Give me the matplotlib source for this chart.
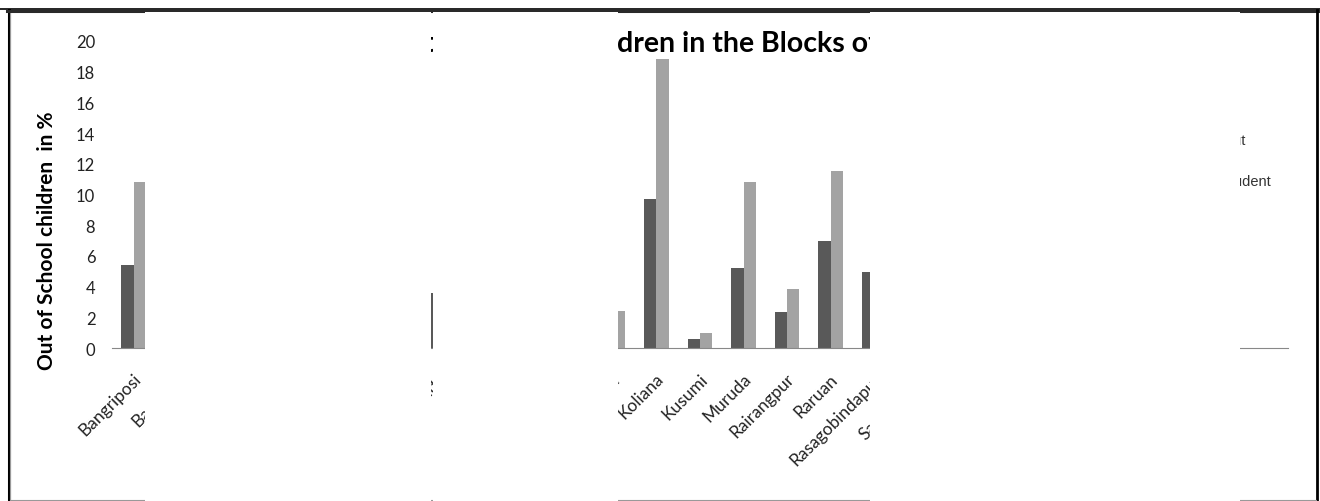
import matplotlib
matplotlib.use('Agg')
import matplotlib.pyplot as plt
import matplotlib.transforms as mtransforms
from matplotlib.patches import Rectangle
from matplotlib.lines import Line2D
import numpy as np

W, H = 1320, 502

# data (hidden columns are estimates)
blocks = ['Bangriposi', 'Baripada', 'Bahalda', 'Betnoti', 'Bijatala', 'Bisoi',
          'Gopabandhunagar', 'Jamda', 'Jashipur', 'Kaptipada', 'Karanjia', 'Khunta',
          'Koliana', 'Kusumi', 'Muruda', 'Rairangpur', 'Raruan', 'Rasagobindapur',
          'Sarasakana', 'Shamakhunta', 'Sukruli', 'Suliapada', 'Thakurmunda',
          'Tiring', 'Udala', 'Badasahi', '']
series_names = ['Drop out', 'Non Student']
dark_vals = [5.4, 3.1, 4.2, 2.8, 6.1, 3.3, 4.5, 3.6, 5.0, 2.9, 4.1, 1.8,
             9.7, 0.6, 5.2, 2.35, 6.95, 4.95, 3.4, 4.4, 2.6, 3.9, 5.6, 4.8, 3.2, 2.7, 0]
light_vals = [10.8, 6.5, 8.1, 5.9, 9.4, 7.2, 8.6, 6.8, 9.1, 5.5, 7.7, 2.4,
              18.8, 1.0, 10.8, 3.85, 11.5, 9.3, 6.2, 8.0, 4.9, 7.4, 10.1, 8.7, 6.3, 5.1, 0]
y_ticks = list(range(0, 21, 2))

title = 'Out of School Children in the Blocks of Mayurbhanj District'
ylabel = 'Out of School children  in %'

plt.rcParams['font.family'] = ['Lato', 'DejaVu Sans']


def fx(x):
    return x / W


def fy(y):
    return 1 - y / H


fig = plt.figure(figsize=(W / 100, H / 100), dpi=100)
ax = fig.add_axes([fx(112), fy(349), (1288 - 112) / W, (349 - 42) / H])

x = np.arange(len(blocks))
bw = 0.282
ax.bar(x - bw / 2, dark_vals, bw, color='#595959', label=series_names[0])
ax.bar(x + bw / 2, light_vals, bw, color='#a3a3a3', label=series_names[1])

ax.set_xlim(-0.5, len(blocks) - 0.5)
ax.set_ylim(0, 20)
ax.set_yticks(y_ticks)
for s in ['top', 'right', 'left']:
    ax.spines[s].set_visible(False)
ax.spines['bottom'].set_color('#888888')
ax.tick_params(length=0)
ax.tick_params(axis='y', pad=12, labelsize=12, labelcolor='#222222')
ax.set_xticks(x)
ax.set_xticklabels(blocks, rotation=45, ha='right', rotation_mode='anchor', fontsize=12.5, color='#222222')
ax.tick_params(axis='x', pad=16)
offset = mtransforms.ScaledTranslation(-1 / 100, 0, fig.dpi_scale_trans)
for lab in ax.get_xticklabels():
    lab.set_transform(lab.get_transform() + offset)

leg = ax.legend(loc='upper left', bbox_to_anchor=(fx(1170), fy(134)), bbox_transform=fig.transFigure,
                frameon=False, prop={'family': 'Liberation Sans', 'size': 10.5}, labelspacing=1.85,
                handlelength=0.8, handleheight=0.8, handletextpad=0.5, borderaxespad=0, borderpad=0)
for t in leg.get_texts():
    t.set_color('#333333')

# title, placed so the visible part lines up
r = fig.canvas.get_renderer()
probe = fig.text(0, 0, 'Out of School Chil', fontsize=20.5, fontweight='bold')
pre_w = probe.get_window_extent(r).width
probe.remove()
fig.text(fx(617 - pre_w), fy(52), title, fontsize=20.5, fontweight='bold', va='baseline')

fig.text(fx(47), fy(241), ylabel, rotation=90, fontsize=15, fontweight='bold', ha='center', va='center')

# chart border
fig.add_artist(Line2D([fx(8.5), fx(8.5)], [fy(11), fy(502)], color='black', lw=2.2, zorder=4))
fig.add_artist(Line2D([fx(10.5), fx(10.5)], [fy(13), fy(500)], color='#999999', lw=0.8, zorder=4))
fig.add_artist(Line2D([fx(7), fx(1318)], [fy(12), fy(12)], color='#2a2a2a', lw=2.2, zorder=4))
fig.add_artist(Line2D([fx(1317), fx(1317)], [fy(11), fy(501)], color='black', lw=2.0, zorder=4))
fig.add_artist(Line2D([fx(10), fx(1316)], [fy(500.5), fy(500.5)], color='#999999', lw=0.8, zorder=4))

# white blocks over parts of the chart
for x0, x1 in [(145, 431), (433, 618), (870, 1240)]:
    fig.add_artist(Rectangle((fx(x0), fy(502)), (x1 - x0) / W, (502 - 13) / H,
                             transform=fig.transFigure, facecolor='white', edgecolor='none', zorder=10))

fig.add_artist(Line2D([0, 1], [fy(10), fy(10)], color='black', lw=1.2, zorder=11))

fig.savefig('out.png', dpi=100)
